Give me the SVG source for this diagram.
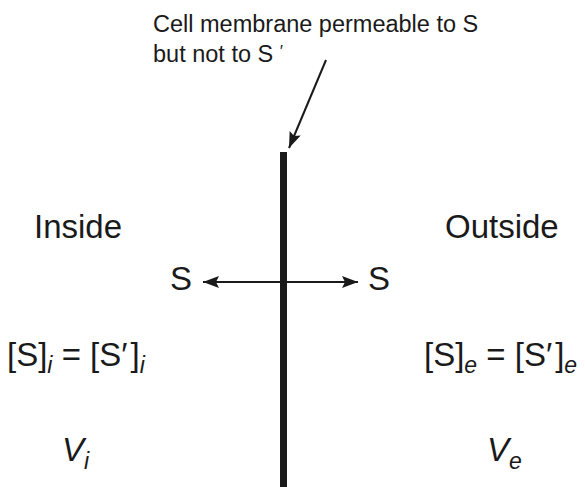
<svg xmlns="http://www.w3.org/2000/svg" width="585" height="487" viewBox="0 0 585 487">
<style>
text{font-family:"Liberation Sans",Arial,Helvetica,sans-serif;fill:#1a1a1a}
.big{font-size:33px}
.note{font-size:23.5px}
.it{font-style:italic}
.sub{font-size:23px;font-style:italic}
.ln{stroke:#1a1a1a;stroke-width:2;fill:none}
</style>
<defs>
<marker id="ah" viewBox="0 0 16 12" refX="16" refY="6" markerWidth="16" markerHeight="12" markerUnits="userSpaceOnUse" orient="auto-start-reverse">
<path d="M0,0 L16,6 L0,12 L3,6 Z" fill="#1a1a1a"/>
</marker>
</defs>
<g id="membrane"><rect x="280" y="152" width="7" height="335" fill="#1a1a1a"/></g>
<g id="connectors">
<line class="ln" x1="326" y1="60" x2="289" y2="148" marker-end="url(#ah)"/>
<line class="ln" x1="203" y1="282" x2="358" y2="282" marker-start="url(#ah)" marker-end="url(#ah)"/>
</g>
<g id="label-note">
<text class="note" x="153" y="32">Cell membrane permeable to S</text>
<text class="note" x="153" y="62">but not to S</text>
<text class="it" x="279" y="57" font-size="17">′</text>
</g>
<g id="inside">
<text class="big" x="34" y="238">Inside</text>
</g>
<g id="outside">
<text class="big" x="445" y="238">Outside</text>
</g>
<g id="s-left"><text class="big" x="170" y="290">S</text></g>
<g id="s-right"><text class="big" x="368" y="290">S</text></g>
<g id="conc-inside">
<text class="big" x="7" y="366">[S]<tspan class="sub" dy="7">i</tspan><tspan dy="-7"> = [S′</tspan><tspan dx="3">]</tspan><tspan class="sub" dy="7">i</tspan></text>
</g>
<g id="conc-outside">
<text class="big" x="424" y="366">[S]<tspan class="sub" dy="7">e</tspan><tspan dy="-7"> = [S′</tspan><tspan dx="3">]</tspan><tspan class="sub" dy="7">e</tspan></text>
</g>
<g id="v-inside"><text class="big it" x="62" y="461">V<tspan class="sub" dy="8">i</tspan></text></g>
<g id="v-outside"><text class="big it" x="487" y="461">V<tspan class="sub" dy="8">e</tspan></text></g>
</svg>
